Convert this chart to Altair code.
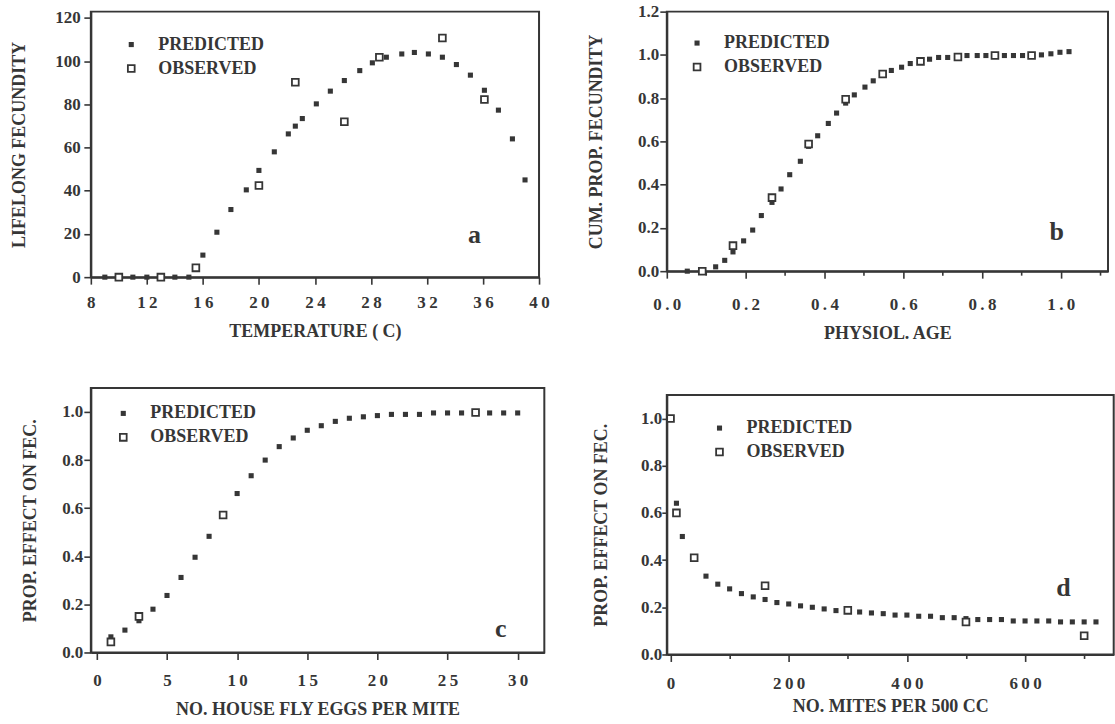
import altair as alt
import pandas as pd

# ---------------- data ----------------
# panel a: lifelong fecundity vs temperature
a_pred_x = [9, 10, 11, 12, 13, 14, 15, 16, 17, 18, 19.1, 20, 21.1, 22.1, 22.6, 23.1, 24.1, 25.1, 26.1,
            27.2, 28.1, 29.1, 30.2, 31.1, 32.1, 33.1, 34.1, 35.1, 36.1, 37.1, 38.1, 39]
a_pred_y = [0, 0, 0, 0, 0, 0, 0, 10.2, 20.8, 31.3, 40.4, 49.4, 58, 66.3, 69.9, 73.4, 80.2, 86.1, 91,
            95.6, 99.2, 101.8, 103.3, 104, 103.3, 101.8, 98.4, 93.5, 86.5, 77.3, 64, 45]
a_obs_x = [10, 13, 15.5, 20, 22.6, 26.1, 28.6, 33.1, 36.1]
a_obs_y = [0, 0, 4.3, 42.4, 90.2, 71.9, 101.8, 110.7, 82.2]

# panel b: cumulative proportional fecundity vs physiological age
b_pred_x = [0.052, 0.09, 0.124, 0.147, 0.168, 0.195, 0.218, 0.24, 0.267, 0.29, 0.312, 0.339, 0.36,
            0.383, 0.41, 0.431, 0.454, 0.476, 0.503, 0.524, 0.548, 0.57, 0.596, 0.618, 0.644, 0.667,
            0.69, 0.713, 0.739, 0.762, 0.788, 0.81, 0.833, 0.857, 0.88, 0.903, 0.926, 0.951, 0.975,
            0.998, 1.021]
b_pred_y = [0, 0, 0.02, 0.05, 0.089, 0.14, 0.19, 0.257, 0.318, 0.38, 0.446, 0.508, 0.577, 0.626,
            0.683, 0.731, 0.777, 0.815, 0.851, 0.88, 0.915, 0.928, 0.943, 0.96, 0.969, 0.98, 0.988,
            0.988, 0.988, 0.997, 0.997, 0.997, 0.997, 0.997, 0.997, 0.997, 0.997, 1.0, 1.005, 1.012,
            1.015]
b_obs_x = [0.09, 0.168, 0.267, 0.36, 0.454, 0.548, 0.644, 0.739, 0.833, 0.926]
b_obs_y = [0, 0.118, 0.34, 0.588, 0.795, 0.912, 0.97, 0.99, 0.997, 0.997]

# panel c: proportional effect on fecundity vs house fly eggs per mite
c_pred_x = list(range(1, 31))
c_pred_y = [0.065, 0.093, 0.132, 0.18, 0.237, 0.312, 0.396, 0.483, 0.57, 0.661, 0.735, 0.8, 0.856,
            0.892, 0.924, 0.943, 0.961, 0.974, 0.98, 0.985, 0.99, 0.99, 0.99, 0.996, 0.996, 0.996,
            0.996, 0.996, 0.996, 0.996]
c_obs_x = [1, 3, 9, 27]
c_obs_y = [0.044, 0.15, 0.572, 0.998]

# panel d: proportional effect on fecundity vs mites per 500 cc
d_pred_x = [0, 10, 20, 40, 60, 80, 100, 120, 140, 160, 180, 200, 220, 240, 260, 280, 300, 320, 340,
            360, 380, 400, 420, 440, 460, 480, 500, 520, 540, 560, 580, 600, 620, 640, 660, 680, 700, 720]
d_pred_y = [1.0, 0.641, 0.5, 0.403, 0.332, 0.298, 0.278, 0.258, 0.244, 0.233, 0.22, 0.214, 0.206,
            0.2, 0.193, 0.186, 0.183, 0.18, 0.176, 0.173, 0.167, 0.167, 0.162, 0.162, 0.156, 0.156,
            0.152, 0.148, 0.148, 0.148, 0.142, 0.142, 0.142, 0.142, 0.138, 0.138, 0.138, 0.138]
d_obs_x = [0, 10, 40, 160, 300, 500, 700]
d_obs_y = [1.0, 0.6, 0.41, 0.291, 0.187, 0.138, 0.079]

series_names = ["PREDICTED", "OBSERVED"]
INK = "#363636"
FONT = "Liberation Serif"


def spaced(cond):
    return f"({cond}) ? join(split(datum.label, ''), '\u2009') : ''"


def panel(px, py, ox, oy, xdom, ydom, xticks, yticks, xmajor, ymajor, xtitle, ytitle, letter,
          letter_xy, w, h, leg_xy, ylab_pad, ytitle_pad, xlab_pad, xtitle_pad, ytick=(7, 4),
          xformat=None):
    df = pd.DataFrame({
        "x": list(px) + list(ox),
        "y": list(py) + list(oy),
        "series": ["PREDICTED"] * len(px) + ["OBSERVED"] * len(ox),
    })
    leg = alt.Legend(
        title=None, orient="none", legendX=leg_xy[0], legendY=leg_xy[1],
        labelFont=FONT, labelFontSize=18, labelFontWeight="bold", labelColor=INK,
        symbolType="square", rowPadding=6, labelOffset=18, padding=0,
        symbolStrokeColor=INK,
    )
    xkw = dict(format=xformat) if xformat else {}
    xaxis = alt.Axis(
        title=xtitle, values=xticks, labelExpr=spaced(xmajor), grid=False,
        domainColor=INK, domainWidth=2, tickColor=INK, tickWidth=1.6,
        tickSize={"condition": {"test": xmajor, "value": 7}, "value": 4},
        labelFont=FONT, labelFontSize=17, labelFontWeight="bold", labelColor=INK,
        labelPadding=xlab_pad, labelFlush=False, labelOverlap=False,
        titleFont=FONT, titleFontSize=18, titleFontWeight="bold", titleColor=INK,
        titlePadding=xtitle_pad, **xkw,
    )
    yaxis = alt.Axis(
        title=ytitle, values=yticks, labelExpr=f"({ymajor}) ? datum.label : ''", grid=False,
        domainColor=INK, domainWidth=2, tickColor=INK, tickWidth=1.6,
        tickSize={"condition": {"test": ymajor, "value": ytick[0]}, "value": ytick[1]},
        labelFont=FONT, labelFontSize=17, labelFontWeight="bold", labelColor=INK,
        labelPadding=ylab_pad, labelFlush=False, labelOverlap=False,
        titleFont=FONT, titleFontSize=18, titleFontWeight="bold", titleColor=INK,
        titlePadding=ytitle_pad,
    )
    pts = alt.Chart(df).mark_square(opacity=1).encode(
        x=alt.X("x:Q", scale=alt.Scale(domain=xdom, nice=False, zero=False), axis=xaxis),
        y=alt.Y("y:Q", scale=alt.Scale(domain=ydom, nice=False, zero=False), axis=yaxis),
        fill=alt.Fill("series:N", scale=alt.Scale(domain=series_names, range=[INK, "white"]), legend=leg),
        stroke=alt.Stroke("series:N", scale=alt.Scale(domain=series_names, range=[INK, INK]), legend=leg),
        size=alt.Size("series:N", scale=alt.Scale(domain=series_names, range=[26, 46]), legend=leg),
        strokeWidth=alt.StrokeWidth("series:N", scale=alt.Scale(domain=series_names, range=[0, 1.8]),
                                    legend=leg),
        order=alt.Order("order:Q"),
    ).transform_calculate(order="datum.series == 'OBSERVED' ? 1 : 0")
    lab = alt.Chart(pd.DataFrame({"x": [letter_xy[0]], "y": [letter_xy[1]], "t": [letter]})).mark_text(
        font=FONT, fontSize=26, fontWeight="bold", color=INK, align="center", baseline="middle"
    ).encode(x="x:Q", y="y:Q", text="t:N")
    return alt.layer(pts, lab).properties(width=w, height=h)


pa = panel(a_pred_x, a_pred_y, a_obs_x, a_obs_y, [8, 40], [0, 122.9],
           list(range(8, 41, 2)), list(range(0, 121, 10)),
           "datum.value % 4 == 0", "datum.value % 20 == 0",
           "TEMPERATURE ( C)", "LIFELONG FECUNDITY", "a", (35.4, 19.4),
           449, 266, (31.5, 24), 3.7, 26, 10.5, 11.5, xformat="d")

pb = panel(b_pred_x, b_pred_y, b_obs_x, b_obs_y, [0, 1.12], [0, 1.2],
           [round(i * 0.1, 1) for i in range(12)], [round(i * 0.1, 1) for i in range(13)],
           "round(datum.value * 10) % 2 == 0", "round(datum.value * 10) % 2 == 0",
           "PHYSIOL. AGE", "CUM. PROP. FECUNDITY", "b", (0.99, 0.18),
           442, 260, (21.3, 22.5), 1, 32.3, 18, 12.5, xformat=".1f")

pc = panel(c_pred_x, c_pred_y, c_obs_x, c_obs_y, [-0.43, 31.9], [0, 1.1],
           [i * 2.5 for i in range(13)], [round(i * 0.1, 1) for i in range(12)],
           "datum.value % 5 == 0", "round(datum.value * 10) % 2 == 0",
           "NO. HOUSE FLY EGGS PER MITE", "PROP. EFFECT ON FEC.", "c", (28.8, 0.097),
           454.3, 265, (23.5, 16.5), 1, 21.7, 13.5, 11.5, xformat=".0f")

pd_ = panel(d_pred_x, d_pred_y, d_obs_x, d_obs_y, [-6.3, 750], [0, 1.1],
            list(range(0, 701, 100)), [round(i * 0.1, 1) for i in range(12)],
            "datum.value % 200 == 0", "round(datum.value * 10) % 2 == 0",
            "NO. MITES PER 500 CC", "PROP. EFFECT ON FEC.", "d", (665, 0.28),
            447.7, 260, (43.8, 24.2), 0, 30, 13.7, 6.5, ytick=(5, 3), xformat="d")

indep = dict(fill="independent", stroke="independent", size="independent", strokeWidth="independent")

col1 = alt.vconcat(pa, pc, spacing=46).resolve_scale(**indep).resolve_legend(**indep)
col2 = alt.vconcat(pb, pd_, spacing=50).resolve_scale(**indep).resolve_legend(**indep)
chart = alt.hconcat(col1, col2, spacing=35).resolve_scale(**indep).resolve_legend(**indep).properties(
    padding={"left": 9, "top": 1, "right": 0, "bottom": 0},
    background="white",
).configure_view(stroke=INK, strokeWidth=2).configure_axis(
    labelFont=FONT, titleFont=FONT
).configure_legend(labelFont=FONT)

chart.save("out.html", embed_options={"renderer": "svg", "actions": False})
